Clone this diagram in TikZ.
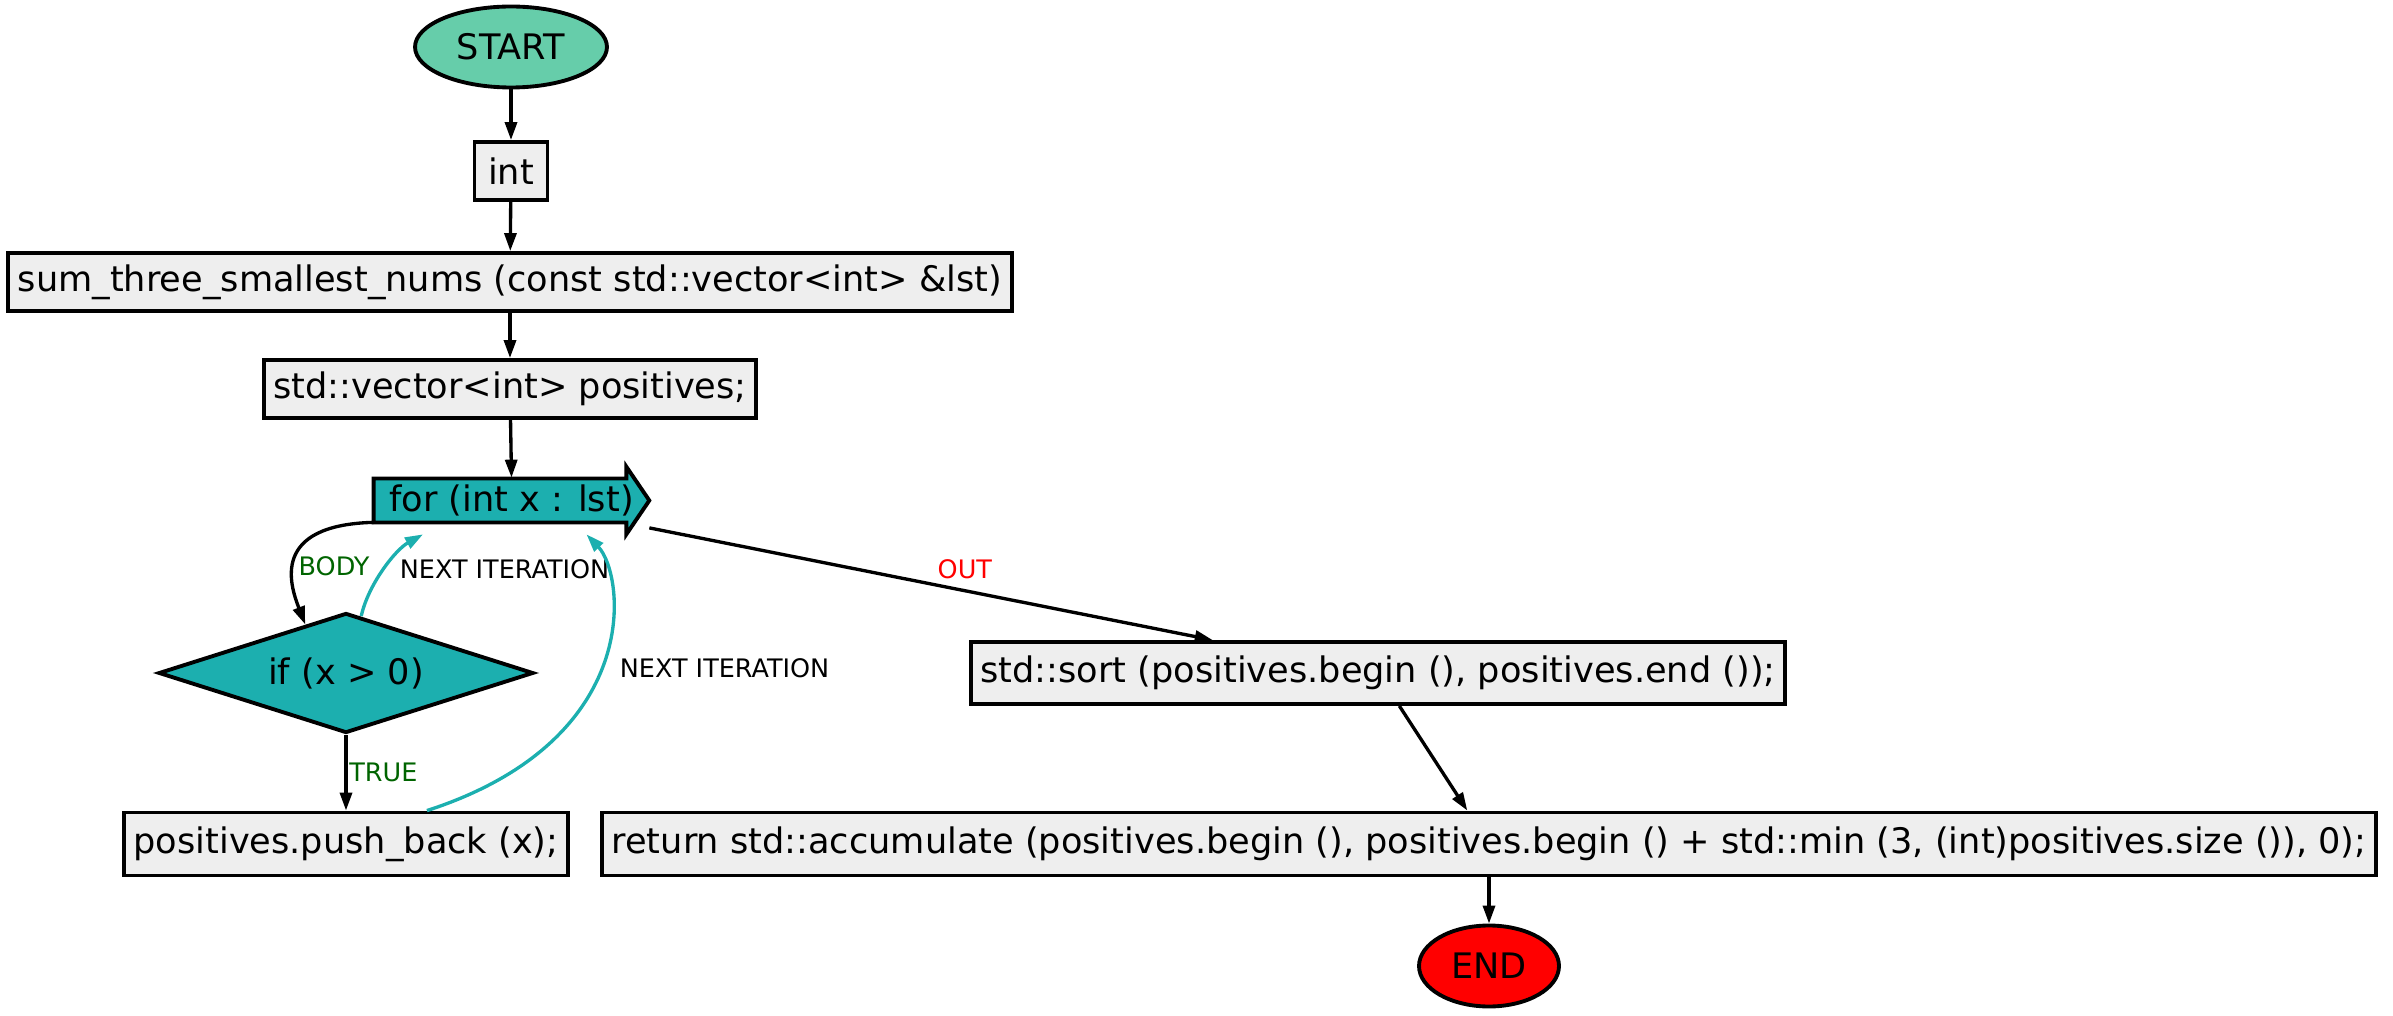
\documentclass[tikz,border=0pt]{standalone}
\usepackage{fontspec}
\setmainfont{DejaVu Sans}
\usetikzlibrary{shapes.geometric,arrows.meta,backgrounds}

\begin{document}
\begin{tikzpicture}[x=0.02cm,y=-0.02cm,
  >={Triangle[length=0.36cm,width=0.24cm]},
  txt/.style={font=\fontsize{20}{24}\selectfont},
  lbl/.style={font=\fontsize{14.5}{17}\selectfont,inner sep=2pt},
  term/.style={txt,ellipse,draw,line width=2.2pt,inner sep=0pt,minimum height=1.62cm},
  stmt/.style={txt,rectangle,draw,line width=2.2pt,fill=boxgray,inner xsep=0.19cm,minimum height=1.16cm},
  cond/.style={txt,diamond,draw,line width=2.2pt,fill=loopteal,inner sep=0pt,aspect=3.08,minimum width=7.5cm,minimum height=2.4cm},
  loopnode/.style={txt,inner sep=0pt,minimum width=5.5cm,minimum height=1.34cm},
  flow/.style={->,line width=1.9pt},
  back/.style={->,line width=1.9pt,draw=loopteal}]
\definecolor{boxgray}{HTML}{EEEEEE}
\definecolor{startgreen}{HTML}{66CDAA}
\definecolor{loopteal}{HTML}{1CAFAF}
\definecolor{bodygreen}{HTML}{006400}
\useasboundingbox (0,0) rectangle (2393,1016);

% nodes
\node[term,fill=startgreen,minimum width=3.84cm] (start) at (511,47) {START};
\node[stmt,minimum width=1.46cm] (int) at (511,171) {int};
\node[stmt] (sum) at (510,282) {sum\_three\_smallest\_nums (const std::vector<int> \&lst)};
\node[stmt] (vector) at (510,389) {std::vector<int> positives;};
\node[loopnode] (for) at (511.5,500.5) {for (int x : lst)};
\node[cond] (if) at (346,673) {if (x > 0)};
\node[stmt,minimum height=1.26cm] (push) at (346,844) {positives.push\_back (x);};
\node[stmt,minimum height=1.24cm] (sort) at (1378,673) {std::sort (positives.begin (), positives.end ());};
\node[stmt,minimum height=1.26cm] (return) at (1489,844) {return std::accumulate (positives.begin (), positives.begin () + std::min (3, (int)positives.size ()), 0);};
\node[term,fill=red,minimum width=2.8cm] (stop) at (1489,966) {END};

% loop arrow shape
\begin{scope}[on background layer]
\filldraw[line width=2.2pt,fill=loopteal] ([yshift=0.44cm]for.west) -- ([xshift=-0.46cm,yshift=0.44cm]for.east)
  -- ([xshift=-0.46cm]for.north east) -- (for.east) -- ([xshift=-0.46cm]for.south east)
  -- ([xshift=-0.46cm,yshift=-0.44cm]for.east) -- ([yshift=-0.44cm]for.west) -- cycle;
\end{scope}

% edges
\foreach \a/\b in {start/int,int/sum,sum/vector}
  \draw[flow] (\a) -- (\b);
\draw[flow] (vector) -- ([yshift=-0.22cm]for.north);
\draw[flow] ([yshift=0.24cm]for.south west) .. controls (270,525) and (290,585) .. (if.130)
  node[lbl,pos=0.55,right,text=bodygreen] {BODY};
\draw[back] (if.75) .. controls (368,585) and (395,550) .. ([xshift=-1.77cm]for.south)
  node[lbl,pos=0.5,right=6pt,text=black] {NEXT ITERATION};
\draw[back] ([xshift=1.62cm]push.north) .. controls (645,740) and (625,575) .. ([xshift=1.5cm]for.south)
  node[lbl,pos=0.48,right=8pt,text=black] {NEXT ITERATION};
\draw[flow] (if) -- (push) node[lbl,midway,right,inner sep=1pt,text=bodygreen] {TRUE};
\draw[flow] (for) -- (sort) node[lbl,pos=0.56,above=4pt,text=red] {OUT};
\draw[flow] (sort) -- (return);
\draw[flow] (return) -- (stop);
\end{tikzpicture}
\end{document}
